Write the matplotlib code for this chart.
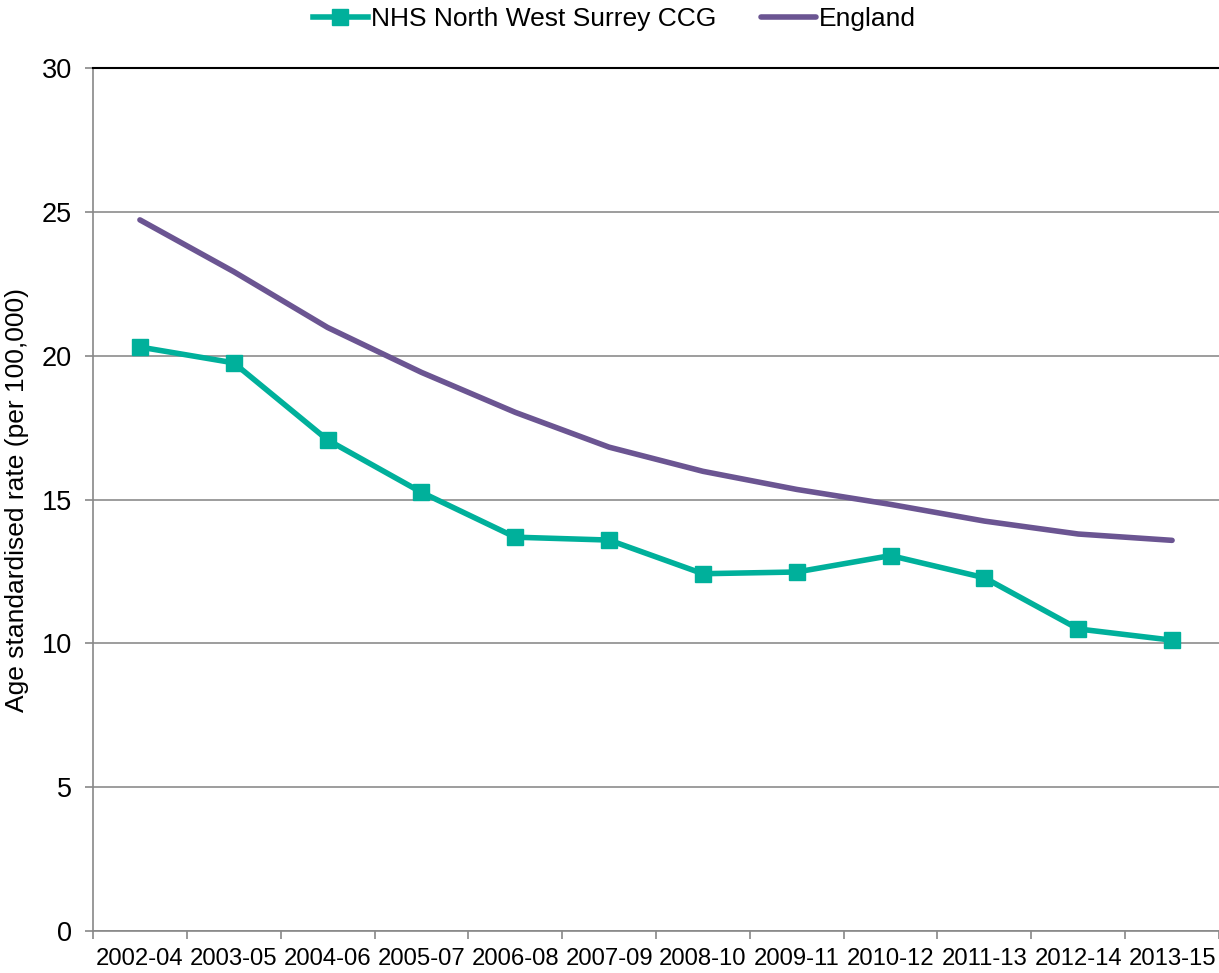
import numpy as np
import matplotlib.pyplot as plt
from matplotlib.ticker import FixedLocator

plt.rcParams['font.family'] = ['Liberation Sans', 'DejaVu Sans']

periods = ["2002-04", "2003-05", "2004-06", "2005-07", "2006-08", "2007-09",
           "2008-10", "2009-11", "2010-12", "2011-13", "2012-14", "2013-15"]
ccg = [20.3, 19.75, 17.07, 15.25, 13.69, 13.59, 12.42, 12.48, 13.05, 12.28, 10.5, 10.11]
england = [24.72, 22.92, 20.98, 19.42, 18.03, 16.82, 15.98, 15.35, 14.83, 14.25, 13.8, 13.58]

fig = plt.figure(figsize=(12.19, 9.73), dpi=100)
ax = fig.add_axes([93 / 1219, 42 / 973, 1 - 93 / 1219, 863 / 973])

x = np.arange(len(periods))
ax.plot(x, ccg, color='#00B09B', lw=4, marker='s', ms=11, label='NHS North West Surrey CCG')
ax.plot(x, england, color='#6B5592', lw=4, label='England', solid_capstyle='round')

ax.set_xlim(-0.5, len(periods) - 0.5)
ax.set_ylim(0, 30)
ax.set_yticks(np.arange(0, 31, 5))
ax.set_xticks(x)
ax.set_xticklabels(periods)
ax.xaxis.set_minor_locator(FixedLocator(np.arange(-0.5, len(periods), 1)))
ax.tick_params(axis='x', which='major', length=0, pad=12, labelsize=17.2)
ax.tick_params(axis='x', which='minor', length=6, color='#888888', width=1.2)
ax.tick_params(axis='y', length=6, color='#888888', width=1.2, labelsize=19.5, pad=9)

ax.grid(axis='y', color='#8c8c8c', lw=1.2)
ax.set_axisbelow(True)
ax.spines['right'].set_visible(False)
ax.spines['top'].set_color('black')
ax.spines['top'].set_linewidth(1.5)
ax.spines['left'].set_color('#888888')
ax.spines['left'].set_linewidth(1.2)
ax.spines['bottom'].set_color('#888888')
ax.spines['bottom'].set_linewidth(1.2)

ax.set_ylabel('Age standardised rate (per 100,000)', fontsize=19, labelpad=9)

ax.legend(loc='upper center', bbox_to_anchor=(0.463, 1.098), ncol=2, frameon=False,
          fontsize=19, handlelength=2.1, handletextpad=0.1, columnspacing=1.7)

fig.savefig('out.png', dpi=100)
